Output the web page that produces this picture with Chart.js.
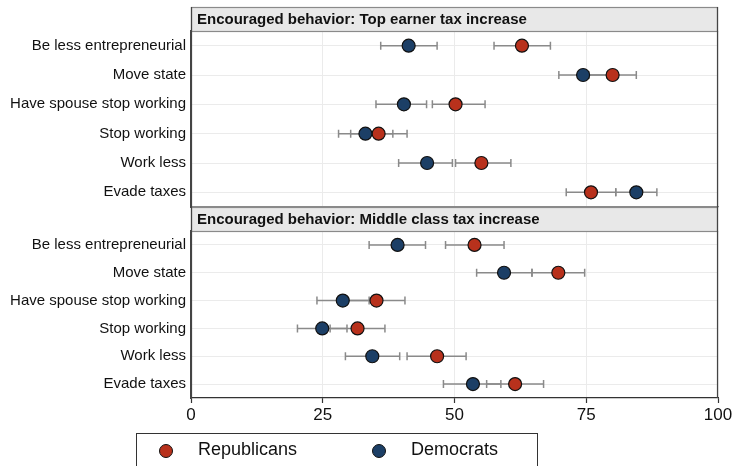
<!DOCTYPE html>
<html>
<head>
<meta charset="utf-8">
<script src="https://cdn.jsdelivr.net/npm/chart.js@4"></script>
<style>
  html, body { margin:0; padding:0; background:#fff; }
  body { width:734px; height:466px; position:relative; overflow:hidden; font-family:"Liberation Sans", Arial, sans-serif; }
  .wrap { position:absolute; left:0; width:734px; }
  #wa { top:0; height:209px; }
  #wb { top:207px; height:259px; }
  #legend { position:absolute; left:136px; top:433px; width:402px; height:40px; border:1.5px solid #333; box-sizing:border-box; }
  .dot { position:absolute; width:14px; height:14px; border-radius:50%; border:1.3px solid #111; box-sizing:border-box; top:9.5px; }
  .lt { position:absolute; top:3px; font-size:18px; color:#111; line-height:24px; }
</style>
</head>
<body>
<div class="wrap" id="wa"><canvas id="ca"></canvas></div>
<div class="wrap" id="wb"><canvas id="cb"></canvas></div>
<div id="legend">
  <div class="dot" style="left:22px;background:#B8311C"></div>
  <div class="lt" style="left:61px">Republicans</div>
  <div class="dot" style="left:235px;background:#1C3F66"></div>
  <div class="lt" style="left:274px">Democrats</div>
</div>
<script>
const categories = ['Be less entrepreneurial','Move state','Have spouse stop working','Stop working','Work less','Evade taxes'];
const xTicks = [0, 25, 50, 75, 100];
const panelTitles = ['Encouraged behavior: Top earner tax increase', 'Encouraged behavior: Middle class tax increase'];

// Top earner tax increase
const topRep   = [62.8, 80.0, 50.2, 35.6, 55.1, 75.9];
const topRepLo = [57.5, 75.5, 45.8, 30.3, 50.2, 71.2];
const topRepHi = [68.2, 84.5, 55.8, 41.0, 60.7, 80.6];
const topDem   = [41.3, 74.4, 40.4, 33.1, 44.8, 84.5];
const topDemLo = [36.0, 69.8, 35.1, 28.0, 39.4, 80.6];
const topDemHi = [46.7, 79.0, 44.7, 38.3, 49.6, 88.4];

// Middle class tax increase
const midRep   = [53.8, 69.7, 35.2, 31.6, 46.7, 61.5];
const midRepLo = [48.3, 64.7, 29.8, 26.4, 41.0, 56.1];
const midRepHi = [59.4, 74.7, 40.6, 36.8, 52.2, 66.9];
const midDem   = [39.2, 59.4, 28.8, 24.9, 34.4, 53.5];
const midDemLo = [33.8, 54.2, 23.9, 20.2, 29.3, 47.9];
const midDemHi = [44.5, 64.7, 33.8, 29.6, 39.6, 58.8];

const RED = '#B8311C', BLUE = '#1C3F66';
const FONT = '"Liberation Sans", Arial, sans-serif';

const errorBars = {
  id: 'errorBars',
  beforeDatasetsDraw(chart) {
    const {ctx, scales: {x, y}} = chart;
    ctx.save();
    ctx.strokeStyle = '#8a8a8a';
    ctx.lineWidth = 1.5;
    chart.data.datasets.forEach(ds => {
      ds.lo.forEach((lo, i) => {
        const py = y.getPixelForValue(i);
        const x1 = x.getPixelForValue(lo), x2 = x.getPixelForValue(ds.hi[i]);
        ctx.beginPath();
        ctx.moveTo(x1, py); ctx.lineTo(x2, py);
        ctx.moveTo(x1, py - 4); ctx.lineTo(x1, py + 4);
        ctx.moveTo(x2, py - 4); ctx.lineTo(x2, py + 4);
        ctx.stroke();
      });
    });
    ctx.restore();
  }
};

const panelFrame = {
  id: 'panelFrame',
  afterDraw(chart, args, opts) {
    const {ctx, chartArea: a} = chart;
    ctx.save();
    const top = opts.top;
    ctx.fillStyle = '#e8e8e8';
    ctx.fillRect(a.left, top, a.right - a.left, a.top - top);
    ctx.strokeStyle = '#8a8a8a';
    ctx.lineWidth = 1.2;
    ctx.strokeRect(a.left + 0.5, top + 0.5, a.right - a.left - 1, a.top - top);
    ctx.strokeStyle = '#444';
    ctx.lineWidth = 1.2;
    ctx.beginPath();
    ctx.moveTo(a.right - 0.5, top); ctx.lineTo(a.right - 0.5, a.bottom);
    ctx.moveTo(a.left + 0.5, top); ctx.lineTo(a.left + 0.5, a.bottom);
    ctx.stroke();
    ctx.fillStyle = '#111';
    ctx.font = 'bold 15px ' + FONT;
    ctx.textBaseline = 'middle';
    ctx.textAlign = 'left';
    ctx.fillText(opts.text, a.left + 6, (top + a.top) / 2 + 1);
    ctx.restore();
  }
};

function makeDatasets(rep, repLo, repHi, dem, demLo, demHi) {
  const common = { borderColor: '#111', borderWidth: 1.2, pointRadius: 6.5, pointHoverRadius: 6.5 };
  return [
    Object.assign({ label: 'Democrats', data: dem.map((v, i) => ({x: v, y: categories[i]})), lo: demLo, hi: demHi, backgroundColor: BLUE }, common),
    Object.assign({ label: 'Republicans', data: rep.map((v, i) => ({x: v, y: categories[i]})), lo: repLo, hi: repHi, backgroundColor: RED }, common)
  ];
}

function makeChart(id, datasets, title, headerTop, pad, showX, xHeight, xBorder) {
  return new Chart(document.getElementById(id), {
    type: 'scatter',
    data: { datasets },
    plugins: [errorBars, panelFrame],
    options: {
      responsive: true, maintainAspectRatio: false, animation: false,
      layout: { padding: pad, autoPadding: false },
      plugins: { legend: { display: false }, tooltip: { enabled: false }, panelFrame: { text: title, top: headerTop } },
      scales: {
        x: {
          type: 'linear', min: 0, max: 100,
          afterBuildTicks(s) { s.ticks = xTicks.map(v => ({ value: v })); },
          ticks: { display: showX, color: '#111', font: { size: 17, family: FONT }, padding: 2, maxRotation: 0 },
          grid: { color: '#ebebeb', drawTicks: showX, tickLength: 5, tickColor: '#333', tickWidth: 1.2 },
          border: { color: xBorder, width: 1.2 },
          afterFit(s) { s.height = xHeight; s.paddingLeft = 0; s.paddingRight = 0; s.paddingTop = 0; s.paddingBottom = 0; }
        },
        y: {
          type: 'category', labels: categories, offset: true,
          ticks: { color: '#111', font: { size: 15, family: FONT }, padding: 5 },
          grid: { color: '#ebebeb', drawTicks: false },
          border: { color: '#444', width: 1.2 },
          afterFit(s) { s.width = 191; s.paddingTop = 0; s.paddingBottom = 0; s.paddingLeft = 0; s.paddingRight = 0; }
        }
      }
    }
  });
}

makeChart('ca', makeDatasets(topRep, topRepLo, topRepHi, topDem, topDemLo, topDemHi), panelTitles[0], 7,
  { top: 31, right: 16, bottom: 2, left: 0 }, false, 0, '#8a8a8a');
makeChart('cb', makeDatasets(midRep, midRepLo, midRepHi, midDem, midDemLo, midDemHi), panelTitles[1], 0,
  { top: 24, right: 16, bottom: 0, left: 0 }, true, 68, '#333');
</script>
</body>
</html>
